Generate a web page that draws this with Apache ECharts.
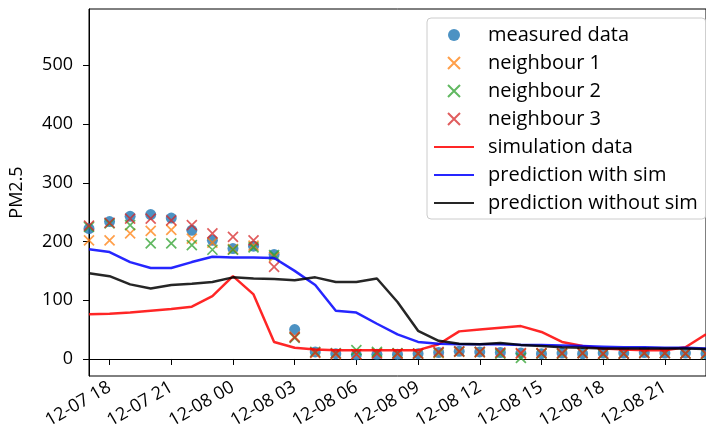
<!DOCTYPE html>
<html>
<head>
<meta charset="utf-8">
<script src="https://cdn.jsdelivr.net/npm/echarts@6/dist/echarts.min.js"></script>
<style>html,body{margin:0;padding:0;background:#fff;}#c{width:706px;height:445px;}</style>
</head>
<body>
<div id="c"></div>
<script>
// Hourly time stamps 12-07 17:00 .. 12-08 23:00
var times = ['12-07 17','12-07 18','12-07 19','12-07 20','12-07 21','12-07 22','12-07 23',
  '12-08 00','12-08 01','12-08 02','12-08 03','12-08 04','12-08 05','12-08 06','12-08 07',
  '12-08 08','12-08 09','12-08 10','12-08 11','12-08 12','12-08 13','12-08 14','12-08 15',
  '12-08 16','12-08 17','12-08 18','12-08 19','12-08 20','12-08 21','12-08 22','12-08 23'];
var measured = [222,234,243,246,240,219,202,188,192,178,50,12,9,7,8,8,9,11,13,12,11,10,9,10,9,10,10,11,10,10,9];
var neighbour1 = [202,202,214,218,220,205,198,187,193,174,38,10,8,8,10,9,9,10,12,11,10,9,10,9,10,9,9,11,10,10,9];
var neighbour2 = [225,231,228,197,197,194,186,186,190,177,36,12,10,15,12,10,9,11,13,12,9,2,9,9,10,8,9,10,10,9,8];
var neighbour3 = [227,232,239,239,236,228,214,208,202,157,37,11,9,8,9,9,9,12,13,12,11,10,10,10,10,9,9,10,10,9,9];
var simulation = [76,77,79,82,85,89,107,141,110,29,19,16,15,15,15,15,15,25,47,50,53,56,46,29,22,18,16,15,15,20,42];
var predWithSim = [187,182,165,155,155,165,174,173,173,172,150,126,82,79,60,42,29,26,25,25,25,24,24,23,22,21,20,20,19,19,18];
var predWithoutSim = [146,141,127,120,126,128,131,139,137,136,134,139,131,131,137,97,48,31,26,25,27,24,22,20,19,18,18,18,18,18,17];
var yTicks = [0,100,200,300,400,500];

var names = ['measured data','neighbour 1','neighbour 2','neighbour 3','simulation data','prediction with sim','prediction without sim'];
var FONT = 'Open Sans';
var FS = 18;
var LFS = 20;
var xPath = 'path://M0,0L10,10M10,0L0,10';
function isTick(idx){ return parseInt(times[idx].slice(-2),10) % 3 === 0; }

function crossSeries(name, data, color){
  return {name:name, type:'scatter', data:data, symbol:xPath, symbolSize:10,
    itemStyle:{color:'rgba(0,0,0,0)', borderColor:color, borderWidth:1.7, opacity:0.75}, z:3};
}
function lineSeries(name, data, color){
  return {name:name, type:'line', data:data, symbol:'none', showSymbol:false,
    lineStyle:{color:color, width:2.5, opacity:0.85}, itemStyle:{color:color, opacity:0.85}, z:4};
}
var legendData = names.map(function(n, i){
  return i < 4 ? {name:n} : {name:n, itemStyle:{opacity:0}};
});

var chart = echarts.init(document.getElementById('c'), null, {renderer:'canvas'});
chart.setOption({
  animation:false,
  backgroundColor:'#fff',
  textStyle:{fontFamily:FONT},
  grid:{left:87, top:9, right:-8, bottom:69, show:true, borderColor:'#000', borderWidth:1, backgroundColor:'transparent'},
  xAxis:{type:'category', data:times, boundaryGap:false,
    axisLine:{lineStyle:{color:'#000', width:1}},
    axisTick:{show:true, length:6, lineStyle:{color:'#000'}, interval:function(i){return isTick(i);}},
    axisLabel:{interval:function(i){return isTick(i);}, rotate:30, margin:10, color:'#000', fontSize:FS, fontFamily:FONT},
    splitLine:{show:false}},
  yAxis:{type:'value', min:-29, max:596, name:'PM2.5', nameLocation:'middle', nameGap:63, nameRotate:90,
    nameTextStyle:{color:'#000', fontSize:FS, fontFamily:FONT},
    axisLine:{show:true, lineStyle:{color:'#000', width:1}},
    axisTick:{show:true, length:6, lineStyle:{color:'#000'}, customValues:yTicks},
    axisLabel:{customValues:yTicks, margin:16, color:'#000', fontSize:FS, fontFamily:FONT},
    splitLine:{show:false}},
  legend:{orient:'vertical', left:427, top:18, data:legendData,
    itemWidth:40, itemHeight:12, itemGap:8,
    padding:[7,8,6,6], backgroundColor:'rgba(255,255,255,0.8)', borderColor:'#cccccc', borderWidth:1, borderRadius:4,
    textStyle:{color:'#000', fontSize:LFS, fontFamily:FONT, lineHeight:20, padding:[0,0,0,9]}},
  series:[
    {name:names[0], type:'scatter', data:measured, symbol:'circle', symbolSize:11, itemStyle:{color:'#1f77b4'}, z:2},
    crossSeries(names[1], neighbour1, '#ff7f0e'),
    crossSeries(names[2], neighbour2, '#2ca02c'),
    crossSeries(names[3], neighbour3, '#d62728'),
    lineSeries(names[4], simulation, '#ff0000'),
    lineSeries(names[5], predWithSim, '#0000ff'),
    lineSeries(names[6], predWithoutSim, '#000000')
  ]
});
</script>
</body>
</html>
